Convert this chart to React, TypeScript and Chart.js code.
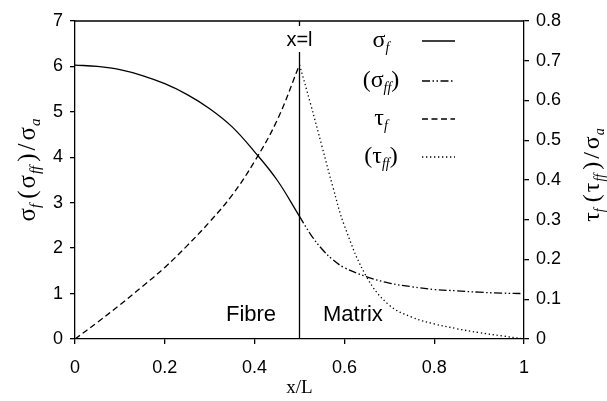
import React, { useEffect, useRef } from 'react';
import { Chart, registerables } from 'chart.js';

Chart.register(...registerables);

// Fibre region (0 <= x/L <= 0.5)
const fibreX = [0, 0.05, 0.1, 0.15, 0.2, 0.25, 0.3, 0.35, 0.4, 0.45, 0.5];
const sigmaF = [6.03, 6.0, 5.93, 5.8, 5.62, 5.38, 5.07, 4.67, 4.12, 3.5, 2.7];
const tauF = [0, 0.042, 0.086, 0.132, 0.18, 0.235, 0.295, 0.362, 0.447, 0.55, 0.69];

// Matrix region (0.5 <= x/L <= 1)
const matrixX = [0.5, 0.525, 0.55, 0.575, 0.6, 0.65, 0.7, 0.75, 0.8, 0.85, 0.9, 0.95, 1];
const sigmaFF = [2.7, 2.3, 1.98, 1.74, 1.57, 1.37, 1.23, 1.15, 1.09, 1.06, 1.03, 1.01, 1.0];
const tauFF = [0.69, 0.59, 0.485, 0.38, 0.285, 0.155, 0.085, 0.055, 0.038, 0.026, 0.016, 0.008, 0];

// Interface position x = l
const interfaceX = [0.5, 0.5];
const interfaceY = [0, 7];

// Axis ticks
const xTicks = [0, 0.2, 0.4, 0.6, 0.8, 1];
const xTickLabels = ['0', '0.2', '0.4', '0.6', '0.8', '1'];
const yTicks = [0, 1, 2, 3, 4, 5, 6, 7];
const yTickLabels = ['0', '1', '2', '3', '4', '5', '6', '7'];
const y2Ticks = [0, 0.1, 0.2, 0.3, 0.4, 0.5, 0.6, 0.7, 0.8];
const y2TickLabels = ['0', '0.1', '0.2', '0.3', '0.4', '0.5', '0.6', '0.7', '0.8'];

const SERIF = '"Liberation Serif", "Times New Roman", serif';
const SANS = '"Liberation Sans", Arial, sans-serif';

const DASH_SOLID: number[] = [];
const DASH_DASHDOT = [8, 2.5, 1.5, 2.5, 1.5, 2.5];
const DASH_DASHED = [6, 3.5];
const DASH_DOTTED = [1.3, 2.7];

type Part = { t: string; sub?: boolean; gap?: number };

function drawRich(
  ctx: CanvasRenderingContext2D,
  parts: Part[],
  cx: number,
  cy: number,
  angle: number,
  size: number
) {
  const subSize = Math.round(size * 0.6);
  const fontFor = (p: Part) => (p.sub ? `italic ${subSize}px ${SERIF}` : `${size}px ${SERIF}`);
  ctx.save();
  ctx.translate(cx, cy);
  ctx.rotate(angle);
  ctx.textBaseline = 'middle';
  ctx.textAlign = 'left';
  ctx.fillStyle = '#000';
  let total = 0;
  const widths = parts.map((p) => {
    ctx.font = fontFor(p);
    const w = ctx.measureText(p.t).width + (p.gap || 0);
    total += w;
    return w;
  });
  let x = -total / 2;
  parts.forEach((p, i) => {
    ctx.font = fontFor(p);
    ctx.fillText(p.t, x, p.sub ? size * 0.32 : 0);
    x += widths[i];
  });
  ctx.restore();
}

const legendRows: { parts: Part[]; dash: number[]; y: number }[] = [
  { parts: [{ t: 'σ' }, { t: 'f', sub: true }], dash: DASH_SOLID, y: 41 },
  { parts: [{ t: '(' }, { t: 'σ' }, { t: 'ff', sub: true }, { t: ')' }], dash: DASH_DASHDOT, y: 81 },
  { parts: [{ t: 'τ' }, { t: 'f', sub: true }], dash: DASH_DASHED, y: 119 },
  { parts: [{ t: '(' }, { t: 'τ' }, { t: 'ff', sub: true }, { t: ')' }], dash: DASH_DOTTED, y: 157 },
];

const leftTitle: Part[] = [
  { t: 'σ' },
  { t: 'f', sub: true, gap: 5 },
  { t: '(', gap: 2 },
  { t: 'σ', gap: 1 },
  { t: 'ff', sub: true, gap: 4 },
  { t: ')', gap: 3 },
  { t: '/', gap: 3 },
  { t: 'σ', gap: 1 },
  { t: 'a', sub: true },
];

const rightTitle: Part[] = [
  { t: 'τ' },
  { t: 'f', sub: true, gap: 6 },
  { t: '(', gap: 2 },
  { t: 'τ', gap: 1 },
  { t: 'ff', sub: true, gap: 4 },
  { t: ')', gap: 3 },
  { t: '/', gap: 3 },
  { t: 'σ', gap: 1 },
  { t: 'a', sub: true },
];

const decorPlugin = {
  id: 'decor',
  afterDraw(chart: any) {
    const ctx: CanvasRenderingContext2D = chart.ctx;
    const { left, right, top } = chart.chartArea;
    const xs = chart.scales.x;
    const ys = chart.scales.y;

    ctx.save();
    // top frame line
    ctx.strokeStyle = '#000';
    ctx.lineWidth = 1.3;
    ctx.beginPath();
    ctx.moveTo(left, top);
    ctx.lineTo(right, top);
    ctx.stroke();

    // "x=l" label over the interface line
    const ix = xs.getPixelForValue(0.5);
    ctx.font = `20px ${SANS}`;
    const lw = ctx.measureText('x=l').width;
    ctx.fillStyle = '#fff';
    ctx.fillRect(ix - lw / 2 - 2, top + 5, lw + 4, 26);
    ctx.fillStyle = '#000';
    ctx.textAlign = 'center';
    ctx.textBaseline = 'middle';
    ctx.fillText('x=l', ix, top + 19);

    // region labels
    ctx.font = `22px ${SANS}`;
    ctx.fillText('Fibre', xs.getPixelForValue(0.392), ys.getPixelForValue(0.53));
    ctx.fillText('Matrix', xs.getPixelForValue(0.619), ys.getPixelForValue(0.53));

    // legend
    legendRows.forEach((row) => {
      drawRich(ctx, row.parts, 381, row.y, 0, 24);
      ctx.save();
      ctx.strokeStyle = '#000';
      ctx.lineWidth = 1.3;
      ctx.setLineDash(row.dash);
      ctx.beginPath();
      ctx.moveTo(422, row.y);
      ctx.lineTo(455, row.y);
      ctx.stroke();
      ctx.restore();
    });

    // axis titles
    drawRich(ctx, leftTitle, 28, 170, -Math.PI / 2, 25);
    drawRich(ctx, rightTitle, 593, 175, -Math.PI / 2, 24);
    ctx.font = `19px ${SERIF}`;
    ctx.fillStyle = '#000';
    ctx.textAlign = 'center';
    ctx.textBaseline = 'middle';
    ctx.fillText('x/L', (left + right) / 2, 388);
    ctx.restore();
  },
};

const pts = (xs: number[], ys: number[]) => xs.map((x, i) => ({ x, y: ys[i] }));

function axisStyle(tickVals: number[], tickLabels: string[], padding: number) {
  return {
    grid: {
      display: true,
      drawOnChartArea: false,
      drawTicks: true,
      tickLength: 5,
      color: '#000',
      lineWidth: 1.3,
    },
    border: { display: true, color: '#000', width: 1.3 },
    afterBuildTicks: (scale: any) => {
      scale.ticks = tickVals.map((v) => ({ value: v }));
    },
    ticks: {
      color: '#000',
      font: { family: SANS, size: 18 },
      padding,
      autoSkip: false,
      maxRotation: 0,
      callback: (v: any) => {
        const i = tickVals.findIndex((t) => Math.abs(t - Number(v)) < 1e-9);
        return i >= 0 ? tickLabels[i] : '';
      },
    },
  };
}

export default function App() {
  const canvasRef = useRef<HTMLCanvasElement | null>(null);

  useEffect(() => {
    const canvas = canvasRef.current;
    if (!canvas) return;
    const line = { pointRadius: 0, borderColor: '#000', borderWidth: 1.3, fill: false, tension: 0.4 };
    const chart = new Chart(canvas, {
      type: 'line',
      data: {
        datasets: [
          { ...line, label: 'σf', data: pts(fibreX, sigmaF), yAxisID: 'y', borderDash: DASH_SOLID },
          { ...line, label: '(σff)', data: pts(matrixX, sigmaFF), yAxisID: 'y', borderDash: DASH_DASHDOT },
          { ...line, label: 'τf', data: pts(fibreX, tauF), yAxisID: 'y2', borderDash: DASH_DASHED },
          { ...line, label: '(τff)', data: pts(matrixX, tauFF), yAxisID: 'y2', borderDash: DASH_DOTTED },
          { ...line, label: 'x=l', data: pts(interfaceX, interfaceY), yAxisID: 'y', borderDash: DASH_SOLID, tension: 0 },
        ],
      },
      options: {
        animation: false,
        responsive: true,
        maintainAspectRatio: false,
        layout: { padding: { top: 21, left: 0, right: 0, bottom: 0 } },
        plugins: { legend: { display: false }, tooltip: { enabled: false } },
        scales: {
          x: {
            type: 'linear',
            min: 0,
            max: 1,
            ...axisStyle(xTicks, xTickLabels, 13),
            afterFit: (s: any) => {
              s.height = 62;
            },
          },
          y: {
            type: 'linear',
            position: 'left',
            min: 0,
            max: 7,
            ...axisStyle(yTicks, yTickLabels, 7),
            afterFit: (s: any) => {
              s.width = 75;
            },
          },
          y2: {
            type: 'linear',
            position: 'right',
            min: 0,
            max: 0.8,
            ...axisStyle(y2Ticks, y2TickLabels, 7),
            afterFit: (s: any) => {
              s.width = 83;
            },
          },
        },
      } as any,
      plugins: [decorPlugin],
    });
    return () => chart.destroy();
  }, []);

  return (
    <div style={{ position: 'fixed', left: 0, top: 0, width: 607, height: 401, background: '#fff' }}>
      <canvas ref={canvasRef} />
    </div>
  );
}
